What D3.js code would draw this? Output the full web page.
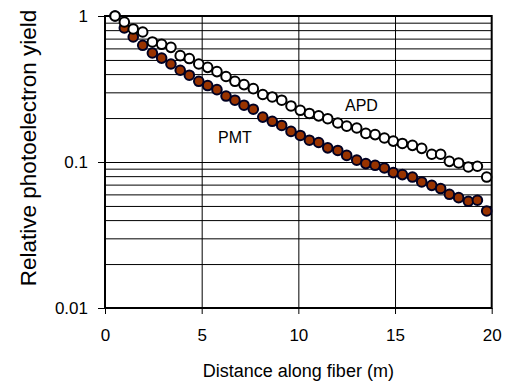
<!DOCTYPE html>
<html>
<head>
<meta charset="utf-8">
<script src="https://cdn.jsdelivr.net/npm/d3@7"></script>
<style>
  body { margin: 0; background: #fff; }
  svg { display: block; font-family: Arial, "Liberation Sans", sans-serif; }
</style>
</head>
<body>
<div id="chart"></div>
<script>
// distance along fiber (m)
const distance = [0.52, 1.00, 1.46, 1.95, 2.45, 2.93, 3.41, 3.89, 4.36, 4.85,
  5.31, 5.79, 6.26, 6.72, 7.19, 7.67, 8.16, 8.65, 9.14, 9.62,
  10.10, 10.57, 11.05, 11.52, 12.04, 12.50, 13.02, 13.49, 13.97, 14.45,
  14.91, 15.38, 15.90, 16.38, 16.90, 17.36, 17.81, 18.29, 18.79, 19.26, 19.74];

const apd = [1.00, 0.910, 0.815, 0.777, 0.664, 0.640, 0.610, 0.535, 0.511, 0.469,
  0.445, 0.416, 0.385, 0.357, 0.339, 0.318, 0.290, 0.279, 0.265, 0.242,
  0.226, 0.215, 0.207, 0.198, 0.185, 0.176, 0.171, 0.157, 0.154, 0.146,
  0.139, 0.134, 0.130, 0.124, 0.113, 0.113, 0.101, 0.0985, 0.0924, 0.0935, 0.0789];

const pmt = [1.00, 0.828, 0.718, 0.630, 0.558, 0.515, 0.469, 0.425, 0.393, 0.357,
  0.334, 0.313, 0.283, 0.265, 0.245, 0.230, 0.203, 0.190, 0.178, 0.162,
  0.152, 0.141, 0.136, 0.125, 0.120, 0.111, 0.103, 0.0975, 0.0949, 0.091,
  0.0846, 0.082, 0.0789, 0.073, 0.0692, 0.0658, 0.0601, 0.0570, 0.0538, 0.0547, 0.0462];

const xTicks = [0, 5, 10, 15, 20];
const yTicks = [0.01, 0.1, 1];
const yTickLabels = ['0.01', '0.1', '1'];

const width = 511;
const height = 389;
const margin = { top: 16, right: 19.3, bottom: 81, left: 105 };

const svg = d3.select('#chart')
  .append('svg')
  .attr('width', width)
  .attr('height', height);

const xScale = d3.scaleLinear()
  .domain([0, 20])
  .range([margin.left, width - margin.right]);

const yScale = d3.scaleLog()
  .domain([0.01, 1])
  .range([height - margin.bottom, margin.top]);

// horizontal grid on every minor log step
const gridVals = yScale.ticks().filter(v => v > 0.01 && v < 1);
svg.append('g')
  .attr('class', 'grid-y')
  .attr('transform', `translate(${margin.left},0)`)
  .call(d3.axisLeft(yScale).tickValues(gridVals)
    .tickSize(-(width - margin.left - margin.right)).tickFormat(''))
  .call(g => g.select('.domain').remove())
  .selectAll('line')
  .attr('stroke', '#000')
  .attr('stroke-width', 1);

svg.append('g')
  .attr('class', 'grid-x')
  .attr('transform', `translate(0,${margin.top})`)
  .call(d3.axisBottom(xScale).tickValues([5, 10, 15])
    .tickSize(height - margin.bottom - margin.top).tickFormat(''))
  .call(g => g.select('.domain').remove())
  .selectAll('line')
  .attr('stroke', '#000')
  .attr('stroke-width', 1);

// frame
svg.append('rect')
  .attr('x', margin.left)
  .attr('y', margin.top)
  .attr('width', width - margin.left - margin.right)
  .attr('height', height - margin.top - margin.bottom)
  .attr('fill', 'none')
  .attr('stroke', '#000')
  .attr('stroke-width', 2);

// axes
const yAxis = svg.append('g')
  .attr('transform', `translate(${margin.left},0)`)
  .call(d3.axisLeft(yScale).tickValues(yTicks)
    .tickFormat((d, i) => yTickLabels[i]).tickSize(7).tickPadding(10));
yAxis.select('.domain').remove();
yAxis.selectAll('text').attr('font-size', 17).attr('fill', '#000')
  .attr('font-family', 'Arial, "Liberation Sans", sans-serif');

const xAxis = svg.append('g')
  .attr('transform', `translate(0,${height - margin.bottom})`)
  .call(d3.axisBottom(xScale).tickValues(xTicks).tickSize(6).tickPadding(15));
xAxis.select('.domain').remove();
xAxis.selectAll('text').attr('font-size', 17).attr('fill', '#000')
  .attr('font-family', 'Arial, "Liberation Sans", sans-serif');

// series
const pmtData = distance.map((d, i) => ({ x: d, y: pmt[i] }));
const apdData = distance.map((d, i) => ({ x: d, y: apd[i] }));

svg.append('g')
  .selectAll('circle')
  .data(pmtData)
  .join('circle')
  .attr('cx', d => xScale(d.x))
  .attr('cy', d => yScale(d.y))
  .attr('r', 4.8)
  .attr('fill', '#993300')
  .attr('stroke', '#000022')
  .attr('stroke-width', 2);

svg.append('g')
  .selectAll('circle')
  .data(apdData)
  .join('circle')
  .attr('cx', d => xScale(d.x))
  .attr('cy', d => yScale(d.y))
  .attr('r', 4.8)
  .attr('fill', '#fff')
  .attr('stroke', '#000')
  .attr('stroke-width', 2);

// labels
svg.append('text')
  .attr('x', 345).attr('y', 111)
  .attr('font-size', 16)
  .text('APD');

svg.append('text')
  .attr('x', 218).attr('y', 143)
  .attr('font-size', 16)
  .text('PMT');

svg.append('text')
  .attr('x', (margin.left + width - margin.right) / 2)
  .attr('y', 377)
  .attr('text-anchor', 'middle')
  .attr('font-size', 18)
  .text('Distance along fiber (m)');

svg.append('text')
  .attr('transform', 'translate(36,148) rotate(-90)')
  .attr('text-anchor', 'middle')
  .attr('font-size', 22.5)
  .text('Relative photoelectron yield');
</script>
</body>
</html>
